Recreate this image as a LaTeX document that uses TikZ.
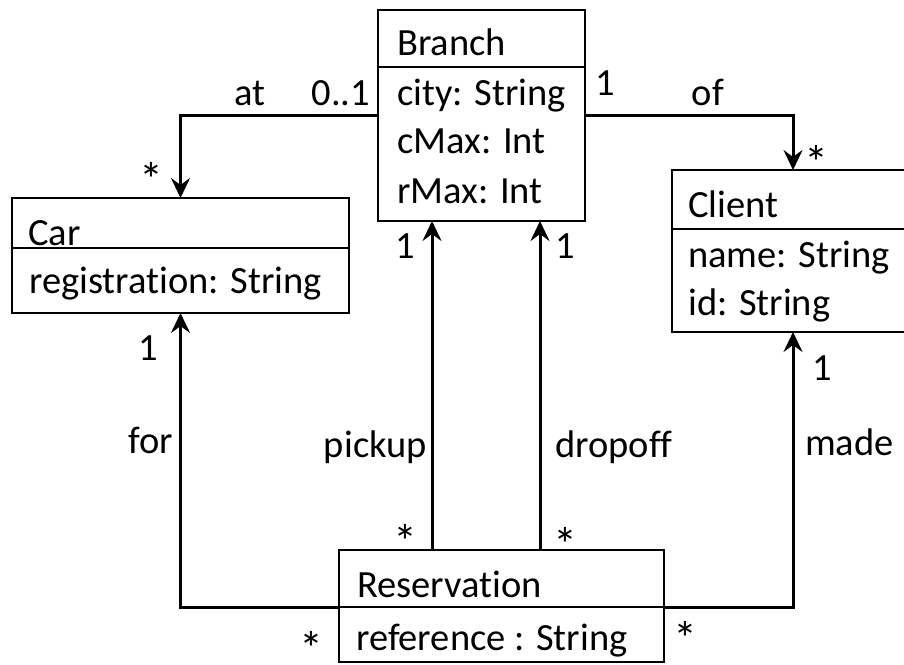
\documentclass[tikz,border=0pt]{standalone}
\usepackage{fontspec}
\setmainfont{Carlito}[Ligatures=NoCommon]
\usetikzlibrary{arrows.meta}
\begin{document}
\begin{tikzpicture}[x=1pt,y=-1pt,
  box/.style={draw, line width=2.4pt, inner sep=0pt, outer sep=0pt, anchor=north west},
  divider/.style={line width=2.4pt},
  assoc/.style={line width=3pt, -{Stealth[length=20pt,width=19pt,inset=7pt]}},
  txt/.style={font=\fontsize{38.5}{46}\selectfont, inner sep=0pt, anchor=base west},
  lbl/.style={font=\fontsize{38.5}{46}\selectfont, inner sep=0pt, anchor=base},
  star/.style={font=\fontsize{48}{56}\selectfont, inner sep=0pt, anchor=center, yshift=-8pt}]
\useasboundingbox (0,0) rectangle (904,664);
% boxes
\node[box, minimum width=207pt, minimum height=211pt] (branch) at (378,10) {};
\node[box, minimum width=337pt, minimum height=115pt] (car) at (12,198) {};
\node[box, minimum width=242pt, minimum height=162pt] (client) at (672,170) {};
\node[box, minimum width=325pt, minimum height=112pt] (res) at (339,550) {};
% dividers
\draw[divider] (branch.west |- 0,67) -- (branch.east |- 0,67);
\draw[divider] (car.west |- 0,248) -- (car.east |- 0,248);
\draw[divider] (client.west |- 0,229) -- (client.east |- 0,229);
\draw[divider] (res.west |- 0,607) -- (res.east |- 0,607);
% box texts
\node[txt] (bname) at (397,55) {Branch};
\node[txt] (bcity) at (397,105) {city: String};
\node[txt] (bcmax) at (397,153) {cMax: Int};
\node[txt] (brmax) at (397,203) {rMax: Int};
\node[txt] (cname) at (28,245) {Car};
\node[txt] (creg) at (29,293) {registration: String};
\node[txt] (clname) at (688,217) {Client};
\node[txt] (clnm) at (688,267) {name: String};
\node[txt] (clid) at (688,315) {id: String};
\node[txt] (rname) at (357,597) {Reservation};
\node[txt] (rref) at (356,650) {reference : String};
% connectors
\draw[assoc] (branch.west |- 0,115) -| (car.north);
\draw[assoc] (branch.east |- 0,115) -| (client.north);
\draw[assoc] (res.north -| 432,0) -- (branch.south -| 432,0);
\draw[assoc] (res.north -| 540,0) -- (branch.south -| 540,0);
\draw[assoc] (res.west |- 0,607) -| (car.south);
\draw[assoc] (res.east |- 0,607) -| (client.south);
% labels
\node[lbl] (lat) at (250,105) {at};
\node[lbl] (lat1) at (341,105) {0..1};
\node[star] (lat2) at (151,171) {*};
\node[lbl] (lof1) at (605,95) {1};
\node[lbl] (lof) at (708,105) {of};
\node[star] (lof2) at (816,154) {*};
\node[lbl] (lpu1) at (405,258) {1};
\node[lbl] (ldo1) at (565,258) {1};
\node[lbl, anchor=base east] (lpu) at (427,457) {pickup};
\node[lbl, anchor=base west] (ldo) at (555,457) {dropoff};
\node[star] (lpu2) at (405,533) {*};
\node[star] (ldo2) at (565,536) {*};
\node[lbl] (lfor1) at (148,360) {1};
\node[lbl, anchor=base east] (lfor) at (173,453) {for};
\node[star] (lfor2) at (311,640) {*};
\node[lbl] (lmade1) at (822,380) {1};
\node[lbl, anchor=base west] (lmade) at (805,455) {made};
\node[star] (lmade2) at (685,630) {*};
\end{tikzpicture}
\end{document}
